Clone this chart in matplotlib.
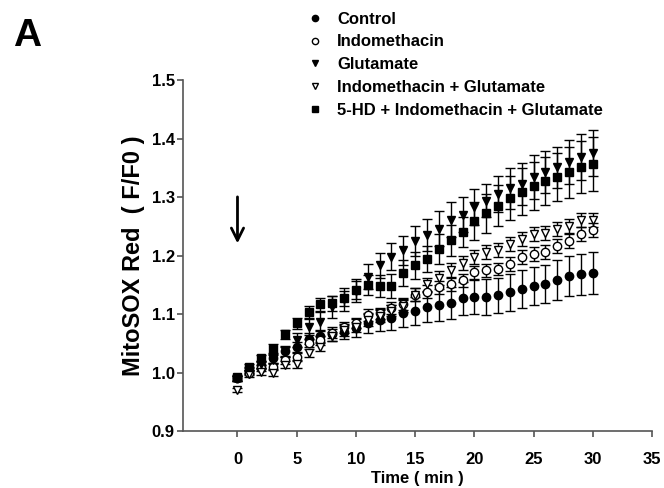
import matplotlib
matplotlib.use("Agg")
import matplotlib.pyplot as plt
import numpy as np

plt.rcParams['font.family'] = ['Liberation Sans', 'DejaVu Sans']
plt.rcParams['font.weight'] = 'bold'

time = list(range(0, 31))

control = [0.990, 1.003, 1.013, 1.024, 1.036, 1.044, 1.058, 1.062, 1.066, 1.070,
           1.076, 1.084, 1.090, 1.094, 1.101, 1.105, 1.112, 1.115, 1.119, 1.127,
           1.129, 1.129, 1.132, 1.137, 1.143, 1.148, 1.151, 1.158, 1.165, 1.168, 1.170]
control_err = [0.004, 0.005, 0.006, 0.007, 0.008, 0.009, 0.010, 0.011, 0.012, 0.013,
               0.015, 0.017, 0.019, 0.022, 0.023, 0.024, 0.026, 0.027, 0.027, 0.028,
               0.029, 0.030, 0.030, 0.031, 0.032, 0.032, 0.033, 0.034, 0.035, 0.035, 0.036]

indo = [0.990, 1.000, 1.008, 1.010, 1.021, 1.027, 1.050, 1.055, 1.067, 1.077,
        1.085, 1.098, 1.101, 1.110, 1.117, 1.133, 1.138, 1.146, 1.151, 1.158,
        1.171, 1.175, 1.177, 1.185, 1.197, 1.203, 1.206, 1.216, 1.225, 1.237, 1.244]
indo_err = [0.004, 0.005, 0.005, 0.006, 0.006, 0.007, 0.007, 0.008, 0.008, 0.009,
            0.009, 0.010, 0.010, 0.010, 0.010, 0.011, 0.011, 0.011, 0.011, 0.011,
            0.011, 0.011, 0.011, 0.012, 0.012, 0.012, 0.012, 0.012, 0.012, 0.012, 0.012]

glut = [0.990, 1.004, 1.014, 1.022, 1.036, 1.056, 1.078, 1.087, 1.112, 1.125,
        1.140, 1.164, 1.183, 1.198, 1.209, 1.225, 1.235, 1.246, 1.261, 1.270,
        1.283, 1.294, 1.305, 1.315, 1.323, 1.334, 1.343, 1.351, 1.360, 1.368, 1.375]
glut_err = [0.004, 0.005, 0.006, 0.008, 0.010, 0.012, 0.014, 0.016, 0.018, 0.019,
            0.020, 0.022, 0.022, 0.023, 0.025, 0.026, 0.028, 0.030, 0.030, 0.030,
            0.030, 0.029, 0.031, 0.035, 0.036, 0.037, 0.036, 0.035, 0.038, 0.039, 0.039]

indo_glut = [0.970, 0.997, 1.001, 1.000, 1.013, 1.015, 1.034, 1.044, 1.062, 1.072,
             1.078, 1.090, 1.097, 1.106, 1.114, 1.133, 1.151, 1.161, 1.176, 1.187,
             1.197, 1.206, 1.209, 1.220, 1.228, 1.236, 1.238, 1.246, 1.250, 1.261, 1.261]
indo_glut_err = [0.004, 0.005, 0.005, 0.006, 0.006, 0.007, 0.007, 0.008, 0.008, 0.009,
                 0.009, 0.010, 0.010, 0.010, 0.011, 0.011, 0.011, 0.012, 0.012, 0.012,
                 0.012, 0.012, 0.012, 0.012, 0.012, 0.012, 0.012, 0.012, 0.012, 0.012, 0.012]

hd_indo_glut = [0.992, 1.009, 1.024, 1.041, 1.065, 1.084, 1.103, 1.117, 1.118, 1.127,
                1.141, 1.150, 1.148, 1.148, 1.170, 1.183, 1.194, 1.211, 1.226, 1.240,
                1.259, 1.272, 1.285, 1.298, 1.309, 1.319, 1.328, 1.335, 1.342, 1.351, 1.356]
hd_indo_glut_err = [0.004, 0.005, 0.006, 0.007, 0.008, 0.009, 0.010, 0.011, 0.012, 0.013,
                    0.015, 0.017, 0.019, 0.020, 0.022, 0.023, 0.023, 0.025, 0.026, 0.026,
                    0.032, 0.034, 0.035, 0.038, 0.040, 0.041, 0.041, 0.041, 0.043, 0.044, 0.046]

labels = ["Control", "Indomethacin", "Glutamate", "Indomethacin + Glutamate",
          "5-HD + Indomethacin + Glutamate"]
series = [control, indo, glut, indo_glut, hd_indo_glut]
errors = [control_err, indo_err, glut_err, indo_glut_err, hd_indo_glut_err]
markers = ['o', 'o', 'v', 'v', 's']
fills = ['black', 'white', 'black', 'white', 'black']

fig = plt.figure(figsize=(6.64, 4.88), dpi=100)
ax = fig.add_axes([0.2756, 0.1168, 0.7064, 0.7192])

handles = []
for y, e, m, fc, lab in zip(series, errors, markers, fills, labels):
    c = ax.errorbar(time, y, yerr=e, fmt=m, color='black', mfc=fc, mec='black',
                    ms=6, mew=1, ecolor='black', elinewidth=1, capsize=3.6,
                    capthick=1, label=lab)
    handles.append(c[0])

ax.annotate('', xy=(0, 1.216), xytext=(0, 1.305),
            arrowprops=dict(arrowstyle='->', lw=2, color='black', mutation_scale=22))

ax.set_xlim(-4.6, 35)
ax.set_ylim(0.9, 1.5)
ax.set_xticks(range(0, 36, 5))
ax.set_yticks(np.arange(0.9, 1.51, 0.1))
ax.set_yticklabels([f"{v:.1f}" for v in np.arange(0.9, 1.51, 0.1)])

for s in ['top', 'right']:
    ax.spines[s].set_visible(False)
for s in ['left', 'bottom']:
    ax.spines[s].set_color('#555555')
    ax.spines[s].set_linewidth(1.2)
ax.tick_params(axis='both', direction='out', colors='#555555', labelcolor='black',
               labelsize=12, width=1.2, length=4)
ax.tick_params(axis='x', pad=11)
ax.tick_params(axis='y', pad=2)
for t in ax.get_xticklabels() + ax.get_yticklabels():
    t.set_fontweight('bold')

ax.set_xlabel("Time ( min )", fontsize=12, fontweight='bold', labelpad=3)
ax.set_ylabel("MitoSOX Red  ( F/F0 )", fontsize=17, fontweight='bold', labelpad=5)

fig.legend(handles, labels, loc='upper left', bbox_to_anchor=(0.455, 0.99),
           frameon=False, markerscale=0.75, handlelength=0.8,
           handletextpad=0.9, labelspacing=0.47, borderaxespad=0,
           prop={'weight': 'bold', 'size': 12})

fig.text(0.02, 0.926, "A", fontsize=28, fontweight='bold', va='center')

fig.savefig("out.png", dpi=100)
